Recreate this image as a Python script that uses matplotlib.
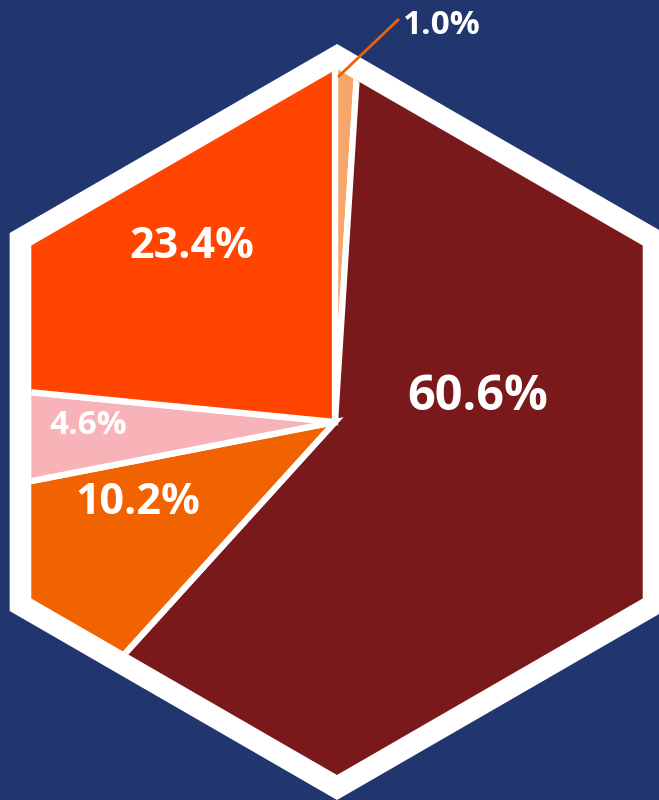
import numpy as np
import matplotlib.pyplot as plt
from matplotlib.patches import Polygon

# slice data, clockwise from the top
labels = ["1.0%", "60.6%", "10.2%", "4.6%", "23.4%"]
shares = [1.0, 60.6, 10.2, 4.6, 23.4]
colors = ["#F6A66A", "#7A191B", "#F06300", "#F8B3B8", "#FF4500"]

BG = "#21356F"
W, H = 659, 800


def hexagon(cx, cy, r):
    # pointy-top hexagon
    ang = np.radians(90 + 60 * np.arange(6))
    return np.column_stack([cx + r * np.cos(ang), cy + r * np.sin(ang)])


fig = plt.figure(figsize=(W / 100, H / 100), dpi=100)
fig.patch.set_facecolor(BG)
ax = fig.add_axes([0, 0, 1, 1])
ax.set_facecolor(BG)

cx, cy = 337, H - 422

wedges, _ = ax.pie(shares, colors=colors, startangle=90, counterclock=False,
                   center=(335, cy), radius=430, frame=True,
                   wedgeprops=dict(edgecolor="white", linewidth=4.5))

ax.set_xlim(0, W)
ax.set_ylim(0, H)
ax.set_aspect("equal")
ax.axis("off")

outer = Polygon(hexagon(cx, cy, 378), closed=True, facecolor="white", edgecolor="none", zorder=1)
ax.add_patch(outer)
inner = Polygon(hexagon(cx, cy, 353), closed=True, facecolor="none", edgecolor="none")
ax.add_patch(inner)

for w in wedges:
    w.set_zorder(2)
    w.set_clip_on(True)
    w.set_clip_path(inner)

# label positions in pixel coords (x, y from top) and font sizes
label_pos = [(442, 25), (478, 398), (138, 502), (88, 426), (192, 247)]
label_size = [24, 35, 31, 24, 31]
for lab, (x, y), fs in zip(labels, label_pos, label_size):
    ax.text(x, H - y, lab, color="white", fontsize=fs, fontweight="bold",
            family="Open Sans", ha="center", va="center", zorder=5)

# leader line for the small slice
ax.plot([338, 399], [H - 77, H - 19], color="#E8630A", lw=2, zorder=4,
        solid_capstyle="butt")

fig.savefig("out.png", dpi=100, facecolor=BG)
